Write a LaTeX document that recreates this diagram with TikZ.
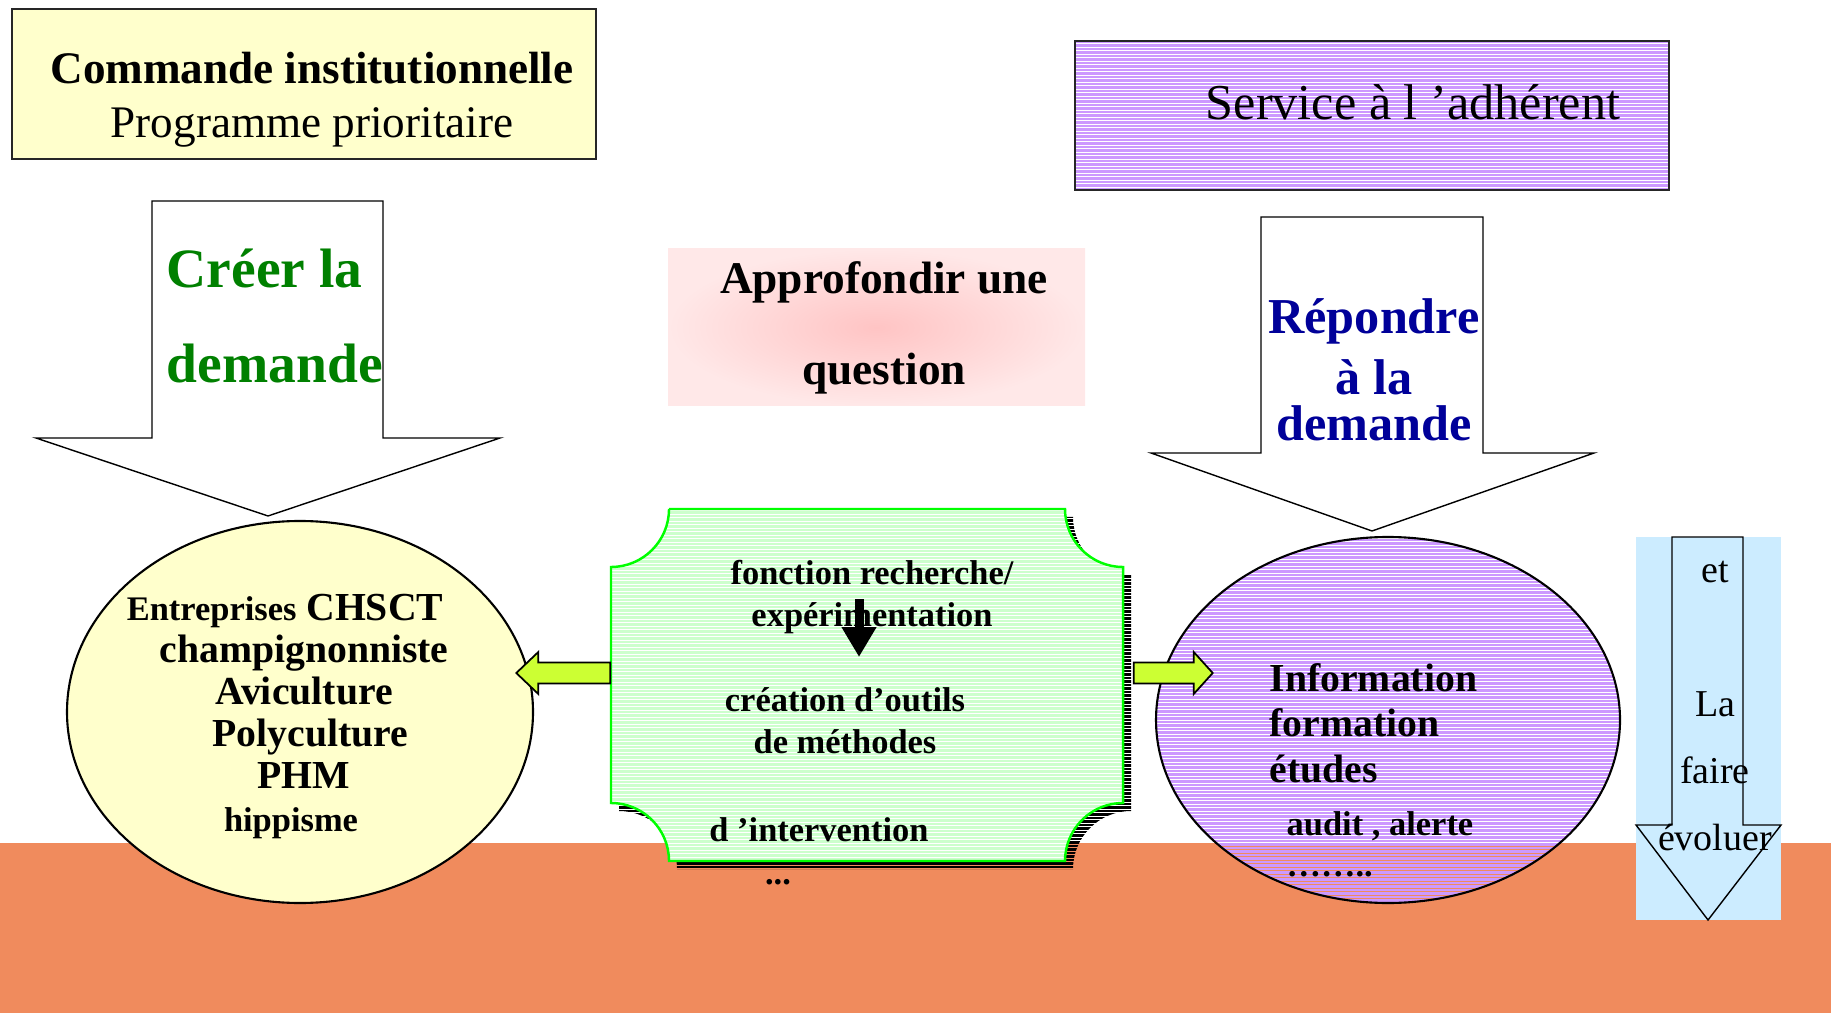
\documentclass[tikz,border=0pt]{standalone}
\usepackage{fontspec}
\setmainfont{Liberation Serif}
\usepackage{tikz}
\usepackage{xcolor}
\usetikzlibrary{shapes.geometric, arrows.meta, positioning, calc}
\definecolor{paleYellow}{HTML}{FFFFCC}
\definecolor{lilac}{HTML}{CC99FF}
\definecolor{mint}{HTML}{CCFFCC}
\definecolor{mintEdge}{HTML}{00FF00}
\definecolor{limeArrow}{HTML}{CCFF33}
\definecolor{groundOrange}{HTML}{F08B5D}
\definecolor{skyBlue}{HTML}{CCECFF}
\definecolor{blushInner}{HTML}{FFC4C4}
\definecolor{blushOuter}{HTML}{FFE8E8}
\definecolor{grassText}{HTML}{008000}
\definecolor{navyText}{HTML}{000099}
\newcommand{\ticketpath}{(6.69,5.04) -- (10.65,5.04) arc[start angle=180, end angle=270, radius=0.58cm] -- (11.23,2.10) arc[start angle=90, end angle=180, radius=0.58cm] -- (6.69,1.52) arc[start angle=0, end angle=90, radius=0.58cm] -- (6.11,4.46) arc[start angle=270, end angle=360, radius=0.58cm] -- cycle}
\tikzstyle{txt} = [inner sep=0pt, anchor=base]
\tikzstyle{stripe} = [line width=0.75pt]
\tikzstyle{orderbox} = [rectangle, draw=black!85, line width=0.5pt, fill=paleYellow, minimum width=5.84cm, minimum height=1.5cm, inner sep=0pt]
\tikzstyle{servicebox} = [rectangle, draw=black!85, line width=0.5pt, minimum width=5.94cm, minimum height=1.49cm, inner sep=0pt]
\tikzstyle{blushbox} = [rectangle, inner color=blushInner, outer color=blushOuter, minimum width=4.17cm, minimum height=1.57cm, inner sep=0pt]
\tikzstyle{hollowarrow} = [draw=black, line width=0.4pt, fill=white]
\tikzstyle{yellowdisc} = [ellipse, draw=black, line width=0.6pt, fill=paleYellow, minimum width=4.66cm, minimum height=3.82cm, inner sep=0pt]
\tikzstyle{lilacdisc} = [ellipse, draw=black, line width=0.6pt, minimum width=4.64cm, minimum height=3.66cm, inner sep=0pt]
\tikzstyle{limearrow} = [draw=black, line width=0.5pt, fill=limeArrow]
\tikzstyle{flowarrow} = [line width=0.09cm, -{Triangle[width=0.33cm,length=0.30cm]}]
\tikzstyle{skycolumn} = [rectangle, fill=skyBlue, minimum width=1.45cm, minimum height=3.83cm, inner sep=0pt]

\begin{document}
\begin{tikzpicture}

\useasboundingbox (0,0) rectangle (18.31,10.13);
\fill[white] (0,0) rectangle (18.31,10.13);

% Ground
\fill[groundOrange] (0,0) rectangle (18.31,1.70);

% Top boxes
\node (commande) [orderbox] at (3.04,9.29) {};
\node (commandeTxt) [txt, align=center, font=\fontsize{12.85}{15.4}\selectfont] at (3.12,8.75) {\textbf{Commande institutionnelle}\\Programme prioritaire};
\begin{scope}
  \clip (10.75,8.23) rectangle (16.69,9.72);
  \foreach \y in {8.24,8.275,...,9.72}
    \draw[stripe, lilac] (10.70,\y) -- (16.75,\y);
\end{scope}
\node (service) [servicebox] at (13.72,8.975) {};
\node (serviceTxt) [txt, font=\fontsize{14.3}{17}\selectfont] at (14.13,8.93) {Service à l ’adhérent};
\node (approfondir) [blushbox] at (8.765,6.855) {};
\node (approfondirTxt) [txt, align=center, font=\bfseries\fontsize{12.9}{25.9}\selectfont] at (8.84,6.28) {Approfondir une\\question};

% Big arrows
\draw[hollowarrow] (1.52,8.12) -- (3.83,8.12) -- (3.83,5.75) -- (5.00,5.75) -- (2.68,4.97) -- (0.36,5.75) -- (1.52,5.75) -- cycle;
\node (creer) [txt, anchor=base west, align=left, text=grassText, font=\bfseries\fontsize{15.8}{27.3}\selectfont] at (1.66,6.30) {Créer la\\demande};
\draw[hollowarrow] (12.61,7.96) -- (14.83,7.96) -- (14.83,5.60) -- (15.94,5.60) -- (13.72,4.82) -- (11.51,5.60) -- (12.61,5.60) -- cycle;
\node (repondre) [txt, align=center, text=navyText, font=\bfseries\fontsize{14.3}{17.3}\selectfont] at (13.74,5.72) {Répondre\\à la\\[-4pt]demande};

% Publics
\node (entreprises) [yellowdisc] at (3.00,3.01) {};
\node (entreprisesTxt) [txt, align=center, font=\bfseries\fontsize{11.3}{12}\selectfont] at (3.04,1.82) {{\fontsize{9.8}{12}\selectfont Entreprises} CHSCT\hspace*{0.38cm}\\champignonniste\\Aviculture\\\hspace*{0.13cm}Polyculture\\PHM\\{\fontsize{9.8}{12}\selectfont hippisme}\hspace*{0.26cm}};

% Research block
\node (recherche) [rectangle, draw=none, minimum width=5.12cm, minimum height=3.52cm, inner sep=0pt] at (8.67,3.28) {};
\begin{scope}[shift={(0.08,-0.08)}]
  \clip \ticketpath;
  \foreach \y in {1.40,1.435,...,5.10}
    \draw[stripe, black] (6.0,\y) -- (11.4,\y);
\end{scope}
\fill[white] \ticketpath;
\begin{scope}
  \clip \ticketpath;
  \foreach \y in {1.40,1.435,...,5.10}
    \draw[stripe, mint] (6.0,\y) -- (11.4,\y);
\end{scope}
\draw[mintEdge, line width=0.7pt] \ticketpath;
\node (fonction) [txt, align=center, font=\bfseries\fontsize{9.8}{11.9}\selectfont] at (8.72,3.87) {fonction recherche/\\expérimentation};
\node (outils) [txt, align=center, font=\bfseries\fontsize{9.8}{11.7}\selectfont] at (8.45,2.60) {création d’outils\\de méthodes};
\node (intervention) [txt, font=\bfseries\fontsize{9.8}{11.7}\selectfont] at (8.19,1.72) {d ’intervention};
\node (suite) [txt, font=\bfseries\fontsize{9.8}{11.7}\selectfont] at (7.78,1.29) {...};
\coordinate (flowTop) at (8.59,4.14);
\coordinate (flowEnd) at (8.59,3.56);
\draw[flowarrow] (flowTop) -- (flowEnd);

% Member side
\begin{scope}
  \clip (13.88,2.93) ellipse [x radius=2.32cm, y radius=1.83cm];
  \foreach \y in {1.09,1.125,...,4.78}
    \draw[stripe, lilac] (11.5,\y) -- (16.3,\y);
\end{scope}
\node (adherent) [lilacdisc] at (13.88,2.93) {};
\node (infoTxt) [txt, anchor=base west, align=left, font=\bfseries\fontsize{11.3}{12.9}\selectfont] at (12.69,2.31) {Information\\formation\\études};
\node (auditTxt) [txt, anchor=base west, align=left, font=\bfseries\fontsize{9.8}{11.4}\selectfont] at (12.86,1.37) {audit , alerte\\……..};

% Evolution column
\node (evoluer) [skycolumn] at (17.085,2.845) {};
\draw[hollowarrow, fill=none] (16.72,4.76) -- (17.43,4.76) -- (17.43,1.88) -- (17.81,1.88) -- (17.08,0.93) -- (16.36,1.88) -- (16.72,1.88) -- cycle;
\node (evoluerTxt) [txt, align=center, font=\fontsize{10.8}{19}\selectfont] at (17.15,1.63) {et\\[19pt]La\\faire\\évoluer};

% Links
\draw[limearrow] ([yshift=0.12cm]recherche.west) ++(0,0.105) -- ++(-0.72,0) -- ++(0,0.105) -- ++(-0.22,-0.21) -- ++(0.22,-0.21) -- ++(0,0.105) -- ++(0.72,0) -- cycle;
\draw[limearrow] ([xshift=0.10cm,yshift=0.12cm]recherche.east) ++(0,0.105) -- ++(0.60,0) -- ++(0,0.105) -- ++(0.19,-0.21) -- ++(-0.19,-0.21) -- ++(0,0.105) -- ++(-0.60,0) -- cycle;

\end{tikzpicture}
\end{document}
